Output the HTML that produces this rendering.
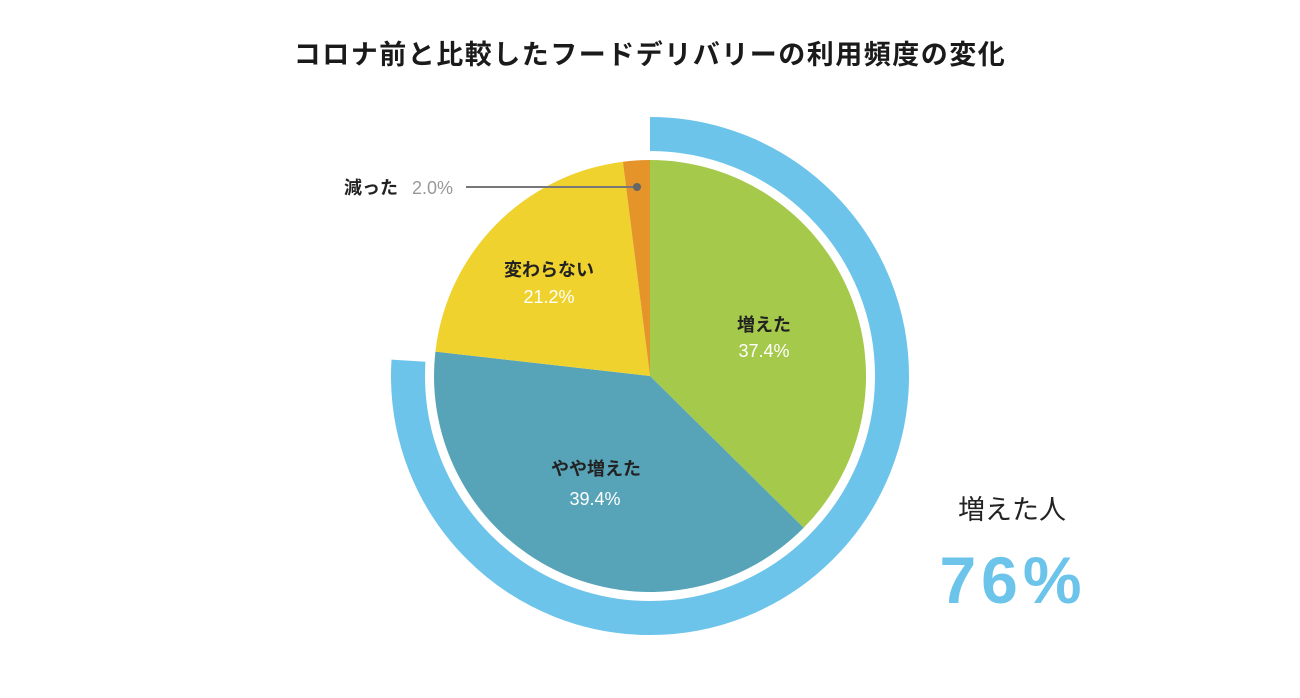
<!DOCTYPE html>
<html><head><meta charset="utf-8"><style>
html,body{margin:0;padding:0;background:#fff;}
body{width:1300px;height:693px;overflow:hidden;}
text{font-family:"Liberation Sans","Noto Sans CJK JP",sans-serif;}
</style></head><body>
<svg width="1300" height="693" viewBox="0 0 1300 693" xmlns="http://www.w3.org/2000/svg">
<text x="650" y="64" text-anchor="middle" font-size="27" font-weight="bold" fill="#1a1a1a" letter-spacing="1.5">コロナ前と比較したフードデリバリーの利用頻度の変化</text>
<circle cx="650" cy="376" r="242" fill="none" stroke="#6cc4ea" stroke-width="34" stroke-dasharray="1155.6 2000" transform="rotate(-90 650 376)"/>
<path d="M650 376 L650 160 A216 216 0 0 1 803.7 527.8 Z" fill="#a5c94a"/>
<path d="M650 376 L803.7 527.8 A216 216 0 0 1 435.4 351.6 Z" fill="#57a4b9"/>
<path d="M650 376 L435.4 351.6 A216 216 0 0 1 622.9 161.7 Z" fill="#f0d22e"/>
<path d="M650 376 L622.9 161.7 A216 216 0 0 1 650 160 Z" fill="#e5942a"/>
<g font-size="18" text-anchor="middle">
<text x="764" y="331" font-weight="bold" fill="#222">増えた</text>
<text x="764" y="357" fill="#fff">37.4%</text>
<text x="596" y="475" font-weight="bold" fill="#222">やや増えた</text>
<text x="595" y="505" fill="#fff">39.4%</text>
<text x="549" y="276" font-weight="bold" fill="#222">変わらない</text>
<text x="549" y="303" fill="#fff">21.2%</text>
</g>
<text x="344" y="194" font-size="18" font-weight="bold" fill="#222">減った</text>
<text x="412" y="194" font-size="18" fill="#999">2.0%</text>
<line x1="466" y1="187" x2="637" y2="187" stroke="#777" stroke-width="2"/>
<circle cx="637" cy="187" r="4" fill="#666"/>
<text x="1012" y="519" font-size="27" text-anchor="middle" fill="#222">増えた人</text>
<text x="1013" y="603" font-size="66" font-weight="bold" text-anchor="middle" fill="#6cc4ea" letter-spacing="5">76%</text>
</svg>
</body></html>
